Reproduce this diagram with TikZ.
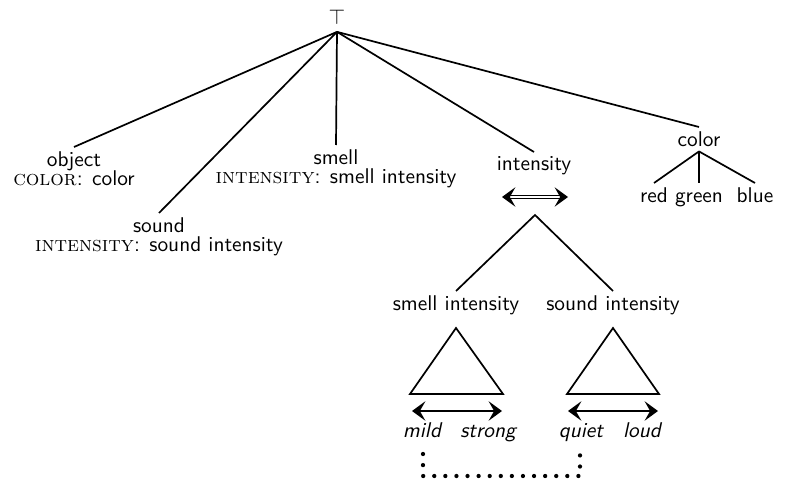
\documentclass[tikz,border=0pt]{standalone}
\usepackage{tikz}
\usetikzlibrary{arrows.meta, positioning}
\newcommand{\featname}[1]{{\rmfamily\scshape #1}}
\tikzset{
  lbl/.style={font=\sffamily, inner sep=2pt},
  feat/.style={font=\sffamily\fontsize{10}{9}\selectfont, align=center, inner sep=2pt, anchor=north},
  word/.style={font=\sffamily, text height=7pt, text depth=2pt, inner sep=2pt, anchor=north},
  pole/.style={font=\sffamily\itshape, text height=7pt, text depth=2pt, inner sep=2pt},
  edge/.style={line width=0.8pt},
  rng/.style={{Stealth[length=2.2mm,width=3.2mm,inset=0.9mm]}-{Stealth[length=2.2mm,width=3.2mm,inset=0.9mm]}, line width=0.9pt},
  dots/.style={line width=2pt, line cap=round, dash pattern=on 0pt off 5.2pt},
}
\begin{document}
\begin{tikzpicture}[x=0.469pt,y=-0.469pt]
\useasboundingbox (0,0) rectangle (787,482);
\node[lbl,inner sep=3.3pt] (top) at (337,17) {$\top$};
\node[feat] (obj) at (74,147) {object\\\featname{color}: color};
\node[feat] (snd) at (159,213) {sound\\\featname{intensity}: sound intensity};
\node[feat] (sml) at (336,145) {smell\\\featname{intensity}: smell intensity};
\node[feat] (int) at (534,152) {intensity};
\node[feat] (col) at (699,127) {color};
\foreach \n in {obj,snd,sml,int,col} \draw[edge] (top.south) -- (\n.north);
\node[word] (red) at (654,183) {red};
\node[word] (grn) at (699,183) {green};
\node[word] (blu) at (755,183) {blue};
\foreach \n in {red,grn,blu} \draw[edge] (col.south) -- (\n.north);
\coordinate (ia) at (502,197); \coordinate (ib) at (568,197); \coordinate (ix) at (535,215);
\draw[rng,line width=0.5pt,double,double distance=0.6pt] (ia) -- (ib);
\node[word] (si) at (456,291) {smell intensity};
\node[word] (so) at (613,291) {sound intensity};
\draw[edge] (si.north) -- (ix) -- (so.north);
\draw[edge] (456,328) -- (503,394) -- (410,394) -- cycle;
\draw[edge] (613,328) -- (659,394) -- (567,394) -- cycle;
\coordinate (sa) at (412,411); \coordinate (sb) at (502,411);
\coordinate (qa) at (568,411); \coordinate (qb) at (658,411);
\draw[rng] (sa) -- (sb); \draw[rng] (qa) -- (qb);
\node[pole] (mild) at (422,432) {mild};
\node[pole] (strong) at (488,432) {strong};
\node[pole] (quiet) at (581,432) {quiet};
\node[pole] (loud) at (642,432) {loud};
\coordinate (d1) at (423,454); \coordinate (d2) at (580,454);
\draw[dots] (d1) -- ++(0,22) -| (d2);
\end{tikzpicture}
\end{document}
